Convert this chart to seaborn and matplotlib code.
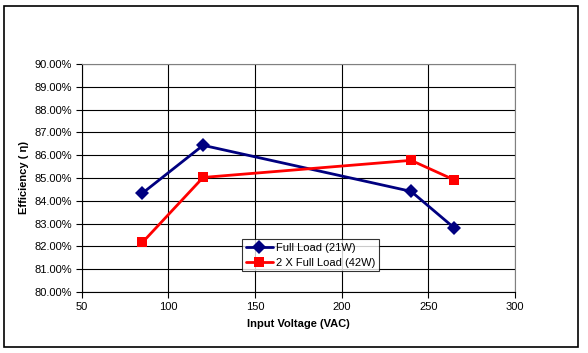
import pandas as pd
import numpy as np
import matplotlib
matplotlib.use("Agg")
import matplotlib.pyplot as plt
import seaborn as sns
from matplotlib.patches import Rectangle
from matplotlib.ticker import FuncFormatter

voltage = [85, 120, 240, 265]
full_load = [84.33, 86.43, 84.41, 82.8]
double_load = [82.17, 85.02, 85.77, 84.91]
series_names = ["Full Load (21W)", "2 X Full Load (42W)"]

df = pd.DataFrame({
    "Input Voltage (VAC)": voltage * 2,
    "Efficiency": full_load + double_load,
    "Series": [series_names[0]] * 4 + [series_names[1]] * 4,
})

sns.set_style("white")
plt.rcParams["font.family"] = ["Liberation Sans", "DejaVu Sans"]
plt.rcParams["text.color"] = "black"
plt.rcParams["axes.labelcolor"] = "black"
plt.rcParams["xtick.color"] = "black"
plt.rcParams["ytick.color"] = "black"

fig = plt.figure(figsize=(5.88, 3.53), dpi=100)
ax = fig.add_axes([0.139, 0.173, 0.737, 0.646])

sns.lineplot(data=df, x="Input Voltage (VAC)", y="Efficiency", hue="Series",
             style="Series", markers=["D", "s"], dashes=False,
             palette=["#000080", "#FF0000"], markersize=7, linewidth=2,
             markeredgewidth=0, ax=ax)

ax.set_xlim(50, 300)
ax.set_ylim(80, 90)
ax.set_xticks(np.arange(50, 301, 50))
ax.set_yticks(np.arange(80, 90.1, 1))
ax.yaxis.set_major_formatter(FuncFormatter(lambda v, p: f"{v:.2f}%"))
ax.grid(True, color="black", linewidth=0.8)
ax.set_axisbelow(True)
for s in ax.spines.values():
    s.set_color("#808080")
    s.set_linewidth(0.8)
ax.spines["left"].set_color("black")
ax.spines["bottom"].set_color("black")
ax.tick_params(axis="both", direction="out", length=4, width=0.8,
               color="black", labelsize=8, left=True, bottom=True, pad=3)
ax.set_xlabel("Input Voltage (VAC)", fontsize=8, fontweight="bold", labelpad=5)
ax.set_ylabel("Efficiency ( η)", fontsize=8, fontweight="bold", labelpad=4)

leg = ax.legend(loc="lower left", bbox_to_anchor=(0.37, 0.09), fontsize=8,
                frameon=True, fancybox=False, edgecolor="black",
                handlelength=2.4, borderpad=0.35, labelspacing=0.4,
                handletextpad=0.3, borderaxespad=0)
leg.get_frame().set_linewidth(0.8)

fig.patches.append(Rectangle((4 / 588, 6 / 353), 574 / 588, 341 / 353,
                             transform=fig.transFigure, fill=False,
                             edgecolor="black", linewidth=1.2))

fig.savefig("out.png", dpi=100)
